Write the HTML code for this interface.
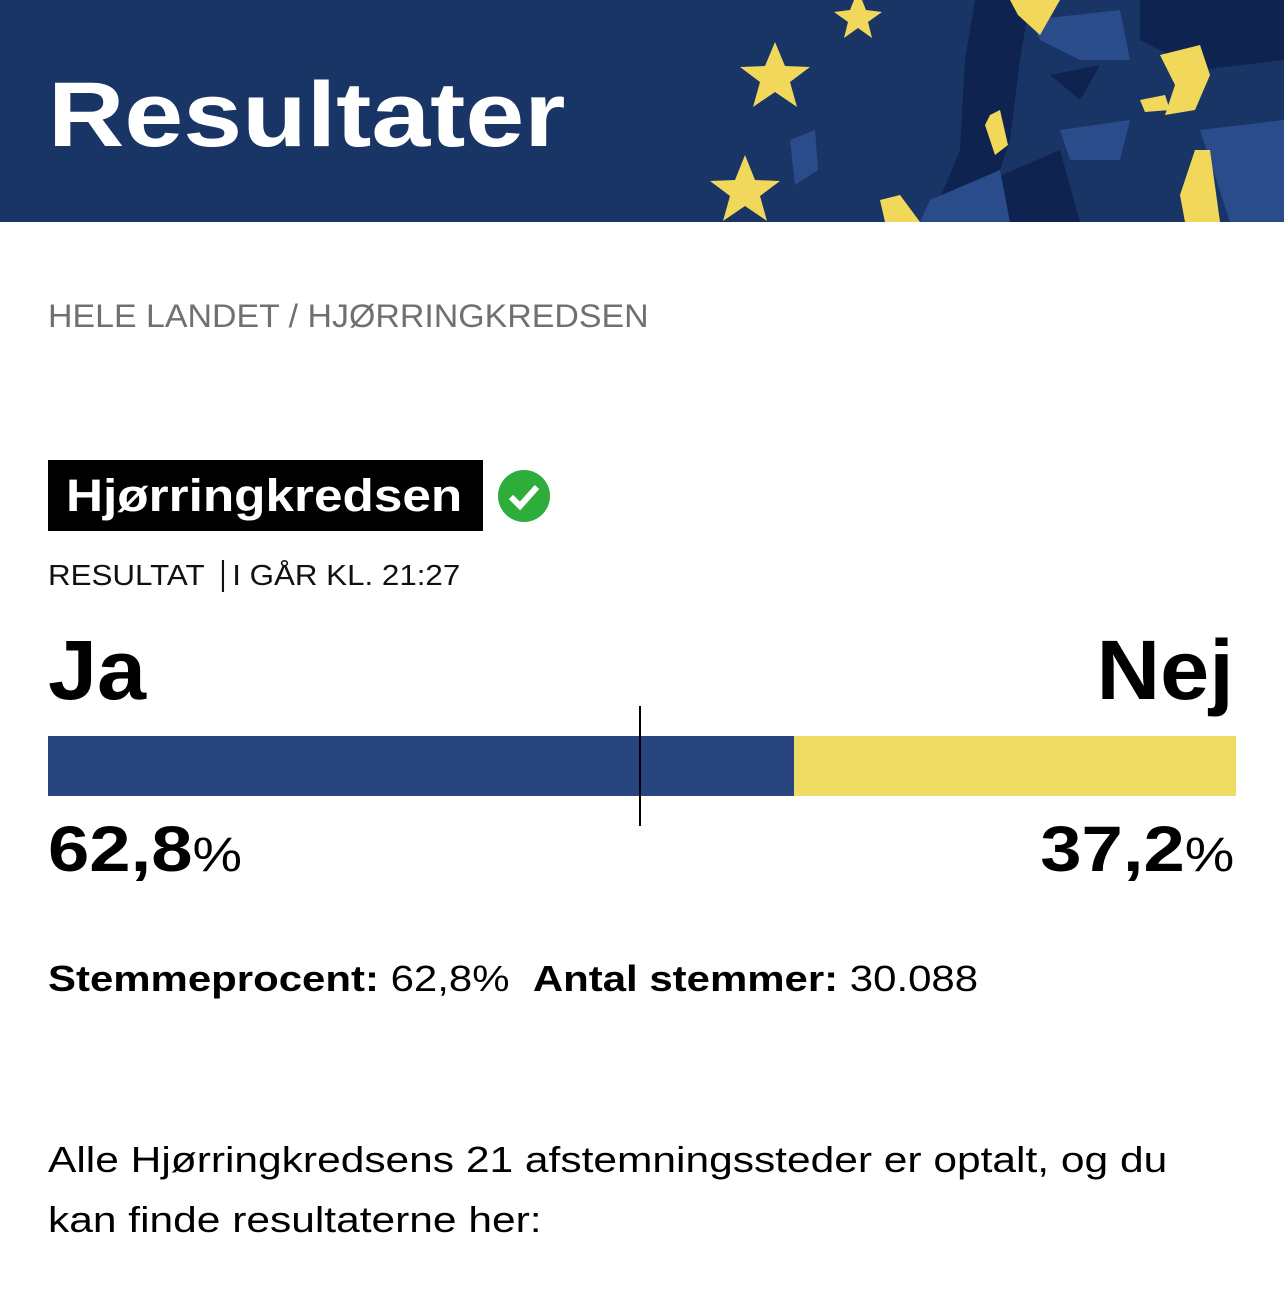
<!DOCTYPE html>
<html><head><meta charset="utf-8"><style>
body{margin:0;width:1284px;height:1298px;background:#fff;font-family:"Liberation Sans",sans-serif;position:relative;overflow:hidden}
.a{position:absolute;white-space:nowrap}
.sl{transform-origin:left top}
.sr{transform-origin:right top}
</style></head><body>
<div class="a" style="left:0;top:0;width:1284px;height:222px;background:#183565">
<svg width="1284" height="222" style="position:absolute;left:0;top:0">
<g fill="#0e2350"><polygon points="975,0 1030,0 1020,60 1010,140 990,200 960,222 930,222 960,150 965,60"/><polygon points="1140,0 1284,0 1284,60 1200,70 1140,40"/><polygon points="990,180 1060,150 1080,222 980,222"/><polygon points="1050,75 1100,65 1080,100"/></g>
<g fill="#2a4c8a"><polygon points="1030,20 1120,10 1130,60 1080,60 1040,40"/><polygon points="790,140 815,130 818,170 795,185"/><polygon points="930,200 1000,170 1010,222 920,222"/><polygon points="1060,130 1130,120 1120,160 1070,160"/><polygon points="1200,130 1284,120 1284,222 1230,222"/></g>
<g fill="#f2d85a"><polygon points="858,-10 866,10 882,12 868,22 872,38 858,28 844,38 848,22 834,12 850,10"/>
<polygon points="775,42 785,66 810,67 790,82 797,107 775,92 753,107 760,82 740,67 765,66"/>
<polygon points="745,155 755,180 780,181 760,196 767,221 745,206 723,221 730,196 710,181 735,180"/>
<polygon points="1010,0 1060,0 1040,35 1018,15"/><polygon points="1160,55 1200,45 1210,75 1195,110 1165,115 1175,85"/>
<polygon points="1140,100 1165,95 1170,110 1145,112"/><polygon points="990,115 1000,110 1008,145 995,155 985,125"/>
<polygon points="880,200 900,195 920,222 885,222"/><polygon points="1195,150 1210,150 1220,222 1200,222 1180,195"/><polygon points="1180,195 1210,190 1215,222 1185,222"/></g>
</svg>
<div class="a sl" style="left:48px;top:60px;font-size:92px;font-weight:bold;color:#fff;line-height:110px;transform:scaleX(1.15)">Resultater</div>
</div>
<div class="a sl" style="left:48px;top:298px;font-size:32px;color:#707070;transform:scaleX(1.06)">HELE LANDET / HJØRRINGKREDSEN</div>
<div class="a" style="left:48px;top:460px;width:435px;height:71px;background:#000"><div class="a sl" style="left:18px;top:0;color:#fff;font-size:45px;font-weight:bold;line-height:71px;transform:scaleX(1.14)">Hjørringkredsen</div></div>
<svg class="a" style="left:497px;top:469px" width="54" height="54"><circle cx="27" cy="27" r="26" fill="#2fad3b"/><polyline points="14,28 23,37 40,18" fill="none" stroke="#fff" stroke-width="6"/></svg>
<div class="a sl" style="left:48px;top:560px;font-size:29px;color:#111;transform:scaleX(1.08)">RESULTAT <span style="border-left:2px solid #111;margin:0 8px"></span> I GÅR KL. 21:27</div>
<div class="a sl" style="left:48px;top:622px;font-size:84px;font-weight:bold;transform:scaleX(1.05)">Ja</div>
<div class="a sr" style="right:50px;top:622px;font-size:84px;font-weight:bold;transform:scaleX(1.05)">Nej</div>
<div id="bar" class="a" style="left:48px;top:736px;width:1188px;height:60px;background:#eedc64"></div>
<div class="a" style="left:639px;top:706px;width:2px;height:120px;background:#000"></div>
<div id="jp" class="a sl" style="left:48px;top:812px;font-size:64px;font-weight:bold;transform:scaleX(1.16)"></div>
<div id="np" class="a sr" style="right:50px;top:812px;font-size:64px;font-weight:bold;transform:scaleX(1.16)"></div>
<div class="a sl" style="left:48px;top:958px;font-size:36px;transform:scaleX(1.165)"><b>Stemmeprocent:</b> 62,8% &nbsp;<b>Antal stemmer:</b> 30.088</div>
<div class="a sl" style="left:48px;top:1130px;font-size:36px;line-height:60px;transform:scaleX(1.18)">Alle Hjørringkredsens 21 afstemningssteder er optalt, og du<br>kan finde resultaterne her:</div>
<script>
const options=["Ja","Nej"];
const shares=[62.8,37.2];
const bar=document.getElementById('bar');
const seg=document.createElement('div');


seg.style.cssText='position:absolute;left:0;top:0;height:60px;background:#284580;width:'+(shares[0]/(shares[0]+shares[1])*1188)+'px';
bar.appendChild(seg);
const fmt=v=>v.toFixed(1).replace('.',',')+'<span style="font-weight:normal;font-size:48px">%</span>';
document.getElementById('jp').innerHTML=fmt(shares[0]);
document.getElementById('np').innerHTML=fmt(shares[1]);
</script>
</body></html>
